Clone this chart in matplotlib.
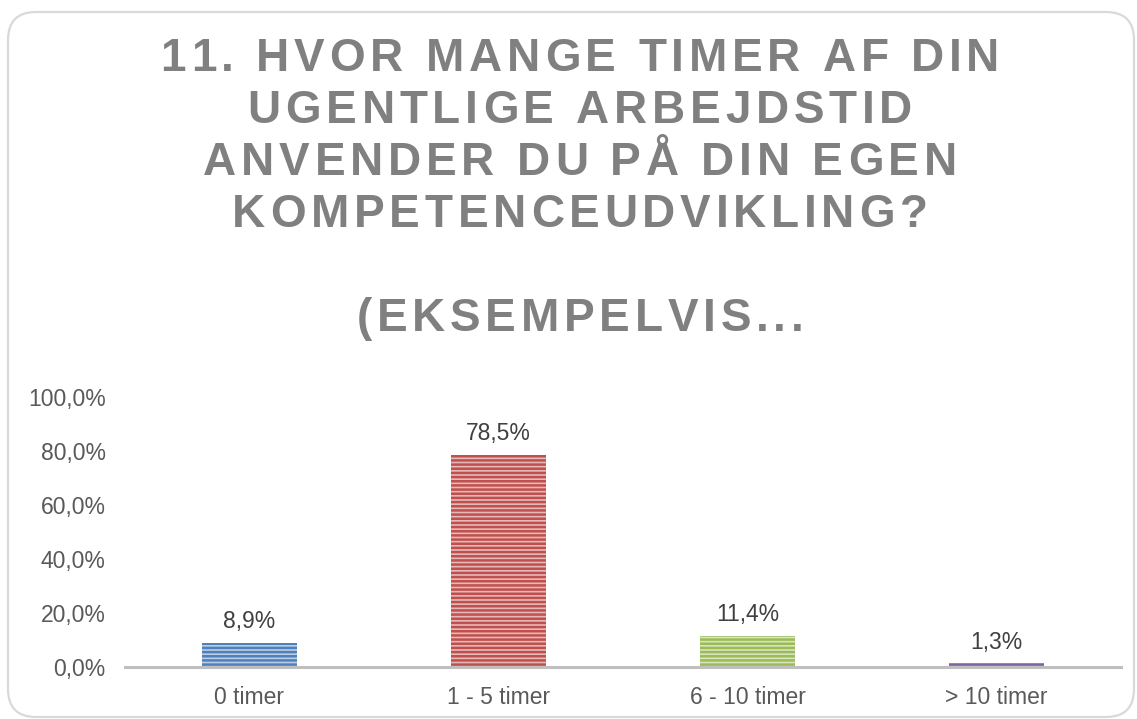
import matplotlib
matplotlib.use("Agg")
import matplotlib.pyplot as plt
from matplotlib.patches import FancyBboxPatch
import numpy as np

plt.rcParams['font.family'] = ['Liberation Sans', 'DejaVu Sans']
plt.rcParams['hatch.linewidth'] = 1.8

categories = ["0 timer", "1 - 5 timer", "6 - 10 timer", "> 10 timer"]
values = [8.9, 78.5, 11.4, 1.3]
value_labels = ["8,9%", "78,5%", "11,4%", "1,3%"]
yticks = [0, 20, 40, 60, 80, 100]
ytick_labels = ["0,0%", "20,0%", "40,0%", "60,0%", "80,0%", "100,0%"]
title_lines = ["11. HVOR MANGE TIMER AF DIN", "UGENTLIGE ARBEJDSTID",
               "ANVENDER DU PÅ DIN EGEN", "KOMPETENCEUDVIKLING?", "",
               "(EKSEMPELVIS..."]

dark = ["#4f81bd", "#c0504d", "#9bbb59", "#8064a2"]
light = ["#b9cde5", "#e6b9b8", "#d7e4bd", "#ccc1da"]

W, H = 1137, 719
fig = plt.figure(figsize=(W / 100, H / 100), dpi=100)

# background layer in pixel coordinates
bg = fig.add_axes([0, 0, 1, 1])
bg.set_xlim(0, W)
bg.set_ylim(0, H)
bg.axis("off")
box = FancyBboxPatch((8, 2), 1126, 705, boxstyle="round,pad=0,rounding_size=28",
                     fc="white", ec="#d9d9d9", lw=1.6)
bg.add_patch(box)

# title with letter spacing, drawn char by char
renderer = fig.canvas.get_renderer()
title_kw = dict(fontsize=33, fontweight="bold", color="#808080")
tracking = 4.8
y0 = H - 59
for i, line in enumerate(title_lines):
    if not line:
        continue
    y = y0 - i * 52
    widths = []
    for ch in line:
        t = bg.text(0, 0, ch, **title_kw)
        widths.append(t.get_window_extent(renderer).width)
        t.remove()
    total = sum(widths) + tracking * (len(line) - 1)
    x = 580 - total / 2
    for ch, w in zip(line, widths):
        bg.text(x, y, ch, ha="left", va="center", **title_kw)
        x += w + tracking

ax = fig.add_axes([125 / W, 52 / H, 996 / W, 270 / H])
ax.patch.set_visible(False)
x = np.arange(len(categories))
bars = ax.bar(x, values, width=0.385, color=light, edgecolor=dark,
              hatch="----", linewidth=0)
for b, c in zip(bars, dark):
    b.set_edgecolor(c)
for xi, v, lab in zip(x, values, value_labels):
    ax.annotate(lab, (xi, v), xytext=(0, 7), textcoords="offset points",
                ha="center", va="bottom", fontsize=16.5, color="#404040")

ax.set_xlim(-0.5, 3.5)
ax.set_ylim(0, 100)
ax.set_yticks(yticks)
ax.set_yticklabels(ytick_labels)
ax.set_xticks(x)
ax.set_xticklabels(categories)
ax.tick_params(axis="both", length=0, labelsize=16.5, labelcolor="#595959")
ax.tick_params(axis="y", pad=14)
ax.tick_params(axis="x", pad=14)
for s in ["left", "right", "top"]:
    ax.spines[s].set_visible(False)
ax.spines["bottom"].set_color("#bfbfbf")
ax.spines["bottom"].set_linewidth(2.2)

fig.savefig("out.png", dpi=100)
